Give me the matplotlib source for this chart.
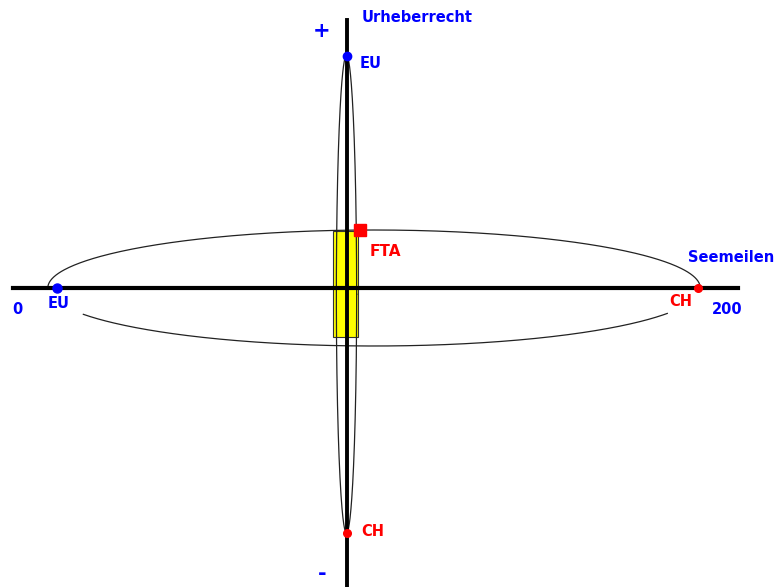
import numpy as np
import matplotlib
matplotlib.use('Agg')
import matplotlib.pyplot as plt
from matplotlib.patches import Rectangle

# Positions in diagram units: x = Seemeilen (0..200), y = Urheberrecht (+ up, - down)
seemeilen_range = [0, 200]
urheber_achse = 92            # where the Urheberrecht axis crosses the Seemeilen axis
punkte_seemeilen = {'EU': 12, 'CH': 189}
punkte_urheber = {'EU': 93, 'CH': -98}
fta_x = [88.4, 95.2]          # yellow overlap band (Seemeilen)
fta_y = [-19.6, 22.8]         # yellow overlap band (Urheberrecht)
fta_punkt = (95.7, 23.2)

BLUE = '#0000ff'
RED = '#ff0000'

# pixel helpers (only used for text layout)
SX, SY = 3.625, 2.5
def px(x, y):
    return (x - 13) / SX, (288 - y) / SY

fig = plt.figure(figsize=(7.84, 5.87), dpi=100)
ax = fig.add_axes([0, 0, 1, 1])
x0, y0 = px(0, 587)
x1, y1 = px(784, 0)
ax.set_xlim(x0, x1)
ax.set_ylim(y0, y1)
ax.axis('off')

# yellow overlap band
ax.add_patch(Rectangle((fta_x[0], fta_y[0]), fta_x[1] - fta_x[0], fta_y[1] - fta_y[0],
                       facecolor='#ffff00', edgecolor='#333333', lw=0.8, zorder=1))

# horizontal ellipse (Seemeilen), lower part broken near the ends
cx = (punkte_seemeilen['EU'] + punkte_seemeilen['CH']) / 2 - 0.9
a = (punkte_seemeilen['CH'] - punkte_seemeilen['EU']) / 2 + 1.5
b = 23.2
t = np.radians(np.linspace(-3, 180, 300))
ax.plot(cx + a * np.cos(t), b * np.sin(t), color='#222222', lw=0.9, zorder=2)
t = np.radians(np.linspace(207, 334, 300))
ax.plot(cx + a * np.cos(t), b * np.sin(t), color='#222222', lw=0.9, zorder=2)

# vertical ellipse (Urheberrecht)
cy = (punkte_urheber['EU'] + punkte_urheber['CH']) / 2
bv = (punkte_urheber['EU'] - punkte_urheber['CH']) / 2
av = 2.8
t = np.radians(np.linspace(0, 360, 400))
ax.plot(urheber_achse + av * np.cos(t), cy + bv * np.sin(t), color='#222222', lw=0.9, zorder=2)

# axes
ax.plot(seemeilen_range, [0, 0], color='black', lw=3, zorder=3)
ax.plot([urheber_achse, urheber_achse], [px(0, 20)[1], y0], color='black', lw=2.8, zorder=3)

# points
ax.plot(punkte_seemeilen['EU'], 0, 'o', color=BLUE, ms=6.5, zorder=4)
ax.plot(punkte_seemeilen['CH'], 0, 'o', color=RED, ms=5.5, zorder=4)
ax.plot(urheber_achse, punkte_urheber['EU'], 'o', color=BLUE, ms=6, zorder=4)
ax.plot(urheber_achse, punkte_urheber['CH'], 'o', color=RED, ms=5.5, zorder=4)
ax.plot(*fta_punkt, 's', color=RED, ms=8, zorder=4)

# labels
font = dict(family='DejaVu Sans', weight='bold', fontsize=10.5)
def label(x, y, s, color, ha='left', size=None):
    kw = dict(font)
    if size:
        kw['fontsize'] = size
    ax.text(*px(x, y), s, color=color, ha=ha, va='center', **kw)

label(362, 18, 'Urheberrecht', BLUE)
label(322, 31, '+', BLUE, ha='center', size=15)
label(322, 574, '-', BLUE, ha='center', size=15)
label(360, 64, 'EU', BLUE)
label(361, 532, 'CH', RED)
label(48, 303, 'EU', BLUE)
label(669, 302, 'CH', RED)
label(12, 310, '0', BLUE)
label(712, 309, '200', BLUE)
label(688, 258, 'Seemeilen', BLUE)
label(370, 251, 'FTA', RED, size=11)

fig.savefig('out.png', dpi=100)
